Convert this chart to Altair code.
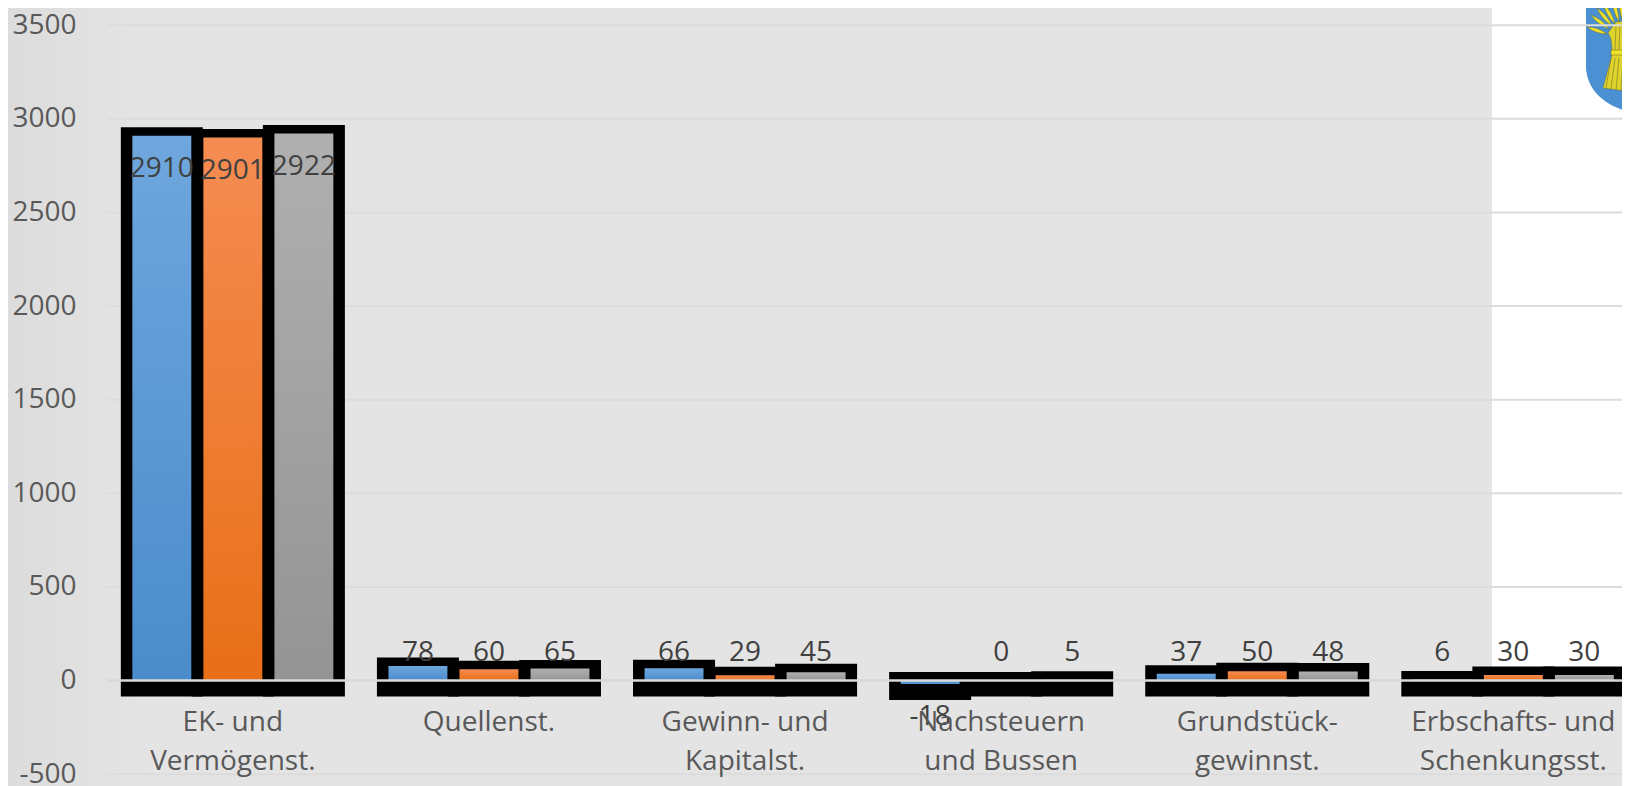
import altair as alt
import pandas as pd

categories = ["EK- und|Vermögenst.", "Quellenst.", "Gewinn- und|Kapitalst.",
              "Nachsteuern|und Bussen", "Grundstück-|gewinnst.", "Erbschafts- und|Schenkungsst."]
series_names = ["A", "B", "C"]
series_a = [2910, 78, 66, -18, 37, 6]
series_b = [2901, 60, 29, 0, 50, 30]
series_c = [2922, 65, 45, 5, 48, 30]
y_ticks = [-500, 0, 500, 1000, 1500, 2000, 2500, 3000, 3500]

rows = []
for name, vals in zip(series_names, [series_a, series_b, series_c]):
    for c, v in zip(categories, vals):
        rows.append({"cat": c, "s": name, "v": v})
df = pd.DataFrame(rows)

FONT = "Open Sans"
xs = alt.Scale(domain=categories, range=[-2.2, 1534.4], paddingInner=0.168, paddingOuter=0.084)
xo = alt.Scale(domain=series_names, paddingInner=0.17, paddingOuter=0.085)
ys = alt.Scale(domain=[-563, 3592], nice=False, zero=False)

X = alt.X("cat:N", scale=xs, sort=categories, title=None, axis=alt.Axis(
    ticks=False, domain=False, grid=False, labelAngle=0, offset=-78, labelPadding=0, zindex=1,
    labelExpr="split(datum.label,'|')", labelFont=FONT, labelFontSize=28, labelColor="#595959",
    labelLineHeight=39.5, labelBaseline="top", labelLimit=400))
XO = alt.XOffset("s:N", scale=xo)
Y = alt.Y("v:Q", scale=ys, title=None, axis=alt.Axis(
    values=y_ticks, ticks=False, domain=False, grid=False, labelPadding=31, labelFont=FONT, labelFontSize=28, zindex=1,
    labelColor="#595959", labelFlush=False, labelExpr="'' + datum.value"))
X2 = alt.X("cat:N", scale=xs, sort=categories, title=None)
def Yq(f):
    return alt.Y(f, scale=ys, title=None)

one = pd.DataFrame({"a": [0]})
left_fade = alt.Chart(one).mark_rect(color=alt.Gradient(
    gradient="linear", x1=0, x2=1, y1=0, y2=0,
    stops=[alt.GradientStop(offset=0, color="#dcdcdc"), alt.GradientStop(offset=1, color="#e4e4e4")])).encode(
    x=alt.value(-99), x2=alt.value(40), y=alt.value(0), y2=alt.value(778))
white = alt.Chart(one).mark_rect(color="white").encode(
    x=alt.value(1385), x2=alt.value(1515), y=alt.value(-8), y2=alt.value(663))
grid = alt.Chart(pd.DataFrame({"g": y_ticks})).mark_rule(color="#dcdcdc", strokeWidth=2).encode(y=Yq("g:Q"))

def grad(top, bottom):
    return alt.Gradient(gradient="linear", x1=0, x2=0, y1=0, y2=1,
                        stops=[alt.GradientStop(offset=0, color=top), alt.GradientStop(offset=1, color=bottom)])

base = alt.Chart(df).transform_calculate(
    top="max(datum.v,0)", bot="min(datum.v,0)",
    ly="datum.v>1000 ? datum.v-178 : datum.v<0 ? -197 : 149", txt="'' + datum.v")

axes = base.mark_bar(opacity=0).encode(x=X, y=Y)
black = base.mark_bar(color="black", width=82, yOffset=-8.5, y2Offset=16).encode(
    x=X2, xOffset=XO, y=Yq("top:Q"), y2="bot:Q")

def fill(name, top, bottom):
    return base.transform_filter(alt.datum.s == name).mark_bar(color=grad(top, bottom)).encode(
        x=X2, xOffset=XO, y=Yq("top:Q"), y2="bot:Q")

zero = alt.Chart(pd.DataFrame({"z": [0]})).mark_rule(color="#d9d9d9", strokeWidth=2.5).encode(y=Yq("z:Q"))
labels = base.mark_text(font=FONT, fontSize=28, color="#404040").encode(
    x=X2, xOffset=XO, y=Yq("ly:Q"), text="txt:N")

def leaf(x0, y0, x1, y1, w=3.6):
    dx, dy = x1 - x0, y1 - y0
    L = (dx * dx + dy * dy) ** 0.5
    nx, ny = -dy / L * w, dx / L * w
    mx, my = (x0 + x1) / 2, (y0 + y1) / 2
    return (f"M{x0},{y0} Q{mx+nx:.1f},{my+ny:.1f} {x1},{y1} Q{mx-nx:.1f},{my-ny:.1f} {x0},{y0} Z ")

shield = "M16,-10 L16,68 C17,85 28,104 60,112 L62,112 L62,-10 Z"
ears = "".join(leaf(*e) for e in [(17, 27, 37, 34), (21, 15, 39, 29), (27, 8, 42, 26),
                                  (33, 3, 45, 24), (42, -3, 49, 22), (50, -4, 53, 22), (58, -4, 57, 22)])
body = "M38,33 L46,22 L62,20 L62,92 L33,88 L42,55 L42,50 C42,42 41,37 38,33 Z"
lines = ("M46,26 L45,50 M50,24 L49,50 M54,24 L53,50 M58,24 L57,50 "
         "M41,58 L36,88 M45,58 L41,89 M49,58 L46,90 M53,58 L51,91 M57,58 L56,91 M61,58 L61,92")
band = "M41,50 L62,50 L62,55 L41,55 Z"

def arms(path, fill_c, stroke_c=None, sw=0.0):
    kw = dict(shape=path, size=4, filled=True, fill=fill_c, opacity=1, strokeWidth=sw)
    kw["stroke"] = stroke_c if stroke_c else "transparent"
    return alt.Chart(one).mark_point(**kw).encode(x=alt.value(1463), y=alt.value(-8))

logo = [arms(shield, "#4a90d2"), arms(body, "#ded22c", "#6b6a1f", 0.4), arms(ears, "#efe22c", "#6b6a1f", 0.5),
        arms(lines, "transparent", "#77752a", 0.6), arms(band, "#efe22c", "#6b6a1f", 0.5)]

chart = alt.layer(left_fade, white, *logo, grid, axes, black, fill("A", "#6fa6de", "#4a8ccb"),
                  fill("B", "#f58c52", "#e86f17"), fill("C", "#b0b0b0", "#949494"), zero, labels).properties(
    width=1515, height=778, background="#e4e4e4",
    padding={"left": 99, "top": 0, "right": 0, "bottom": 0},
    autosize=alt.AutoSizeParams(type="none")
).configure_view(stroke=None)
chart.save("out.html", embed_options={"renderer": "svg", "actions": False})
